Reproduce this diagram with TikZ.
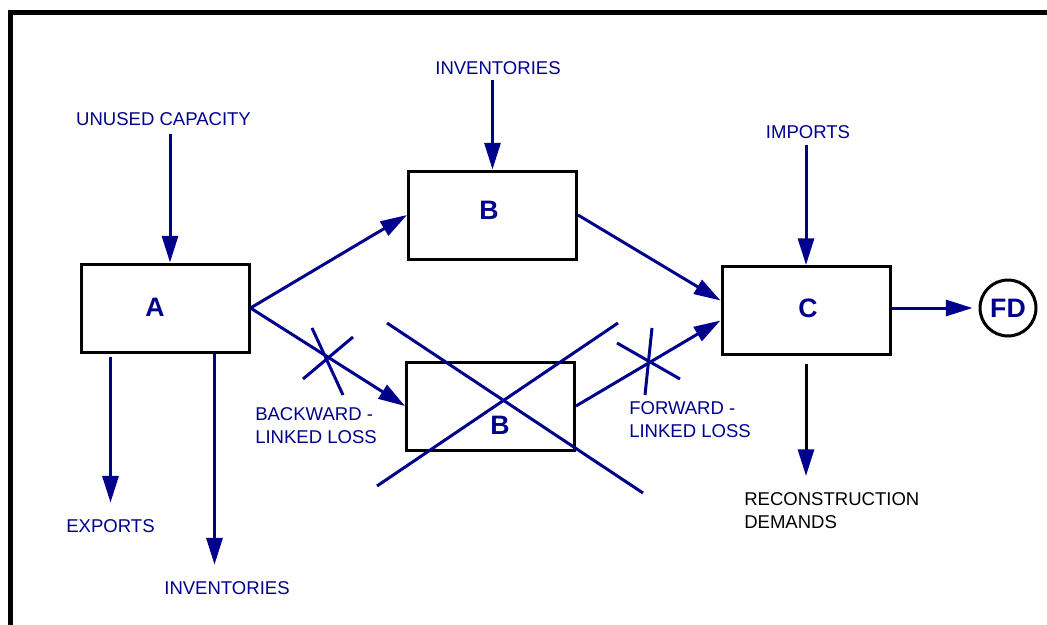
\documentclass[tikz,border=0pt]{standalone}
\usepackage{fontspec}
\setmainfont{Liberation Sans}
\usetikzlibrary{arrows.meta,calc}
\definecolor{navy}{RGB}{0,0,140}
\begin{document}
\begin{tikzpicture}[x=0.75pt,y=-0.75pt,
 box/.style={draw=black,line width=2.25pt,minimum width=126pt,minimum height=66pt,inner sep=0pt},
 big/.style={font=\fontsize{20}{24}\selectfont\bfseries,text=navy,inner sep=0pt},
 lbl/.style={font=\fontsize{13.9}{16.8}\selectfont,text=navy,inner sep=0pt,align=left},
 tip/.style={-{Triangle[length=20pt,width=12pt]}},
 arr/.style={navy,line width=2.25pt,tip},
 ln/.style={navy,line width=2.25pt},
]
\useasboundingbox (0,0) rectangle (1047,625);
\draw[line width=3.75pt] (10.5,625) -- (10.5,12.5) -- (1047,12.5);

% boxes
\node[box] (A) at (165,308) {};
\node[box] (B1) at (492.5,215) {};
\node[box] (B2) at (490.5,406) {};
\node[box] (C) at (806,310.5) {};
\node[draw=black,line width=2.25pt,circle,minimum size=42pt,inner sep=0pt,
      font=\fontsize{20}{24}\selectfont\bfseries,text=navy] (FD) at (1008,308) {FD};

\node[big] (Al) at (155,307) {A};
\node[big] (B1l) at (489,210) {B};
\node[big] (B2l) at (500,425) {B};
\node[big] (Cl) at (808,308) {C};

% texts
\node[lbl] (U) at (163.5,119) {UNUSED CAPACITY};
\node[lbl] (I1) at (498,68) {INVENTORIES};
\node[lbl] (IM) at (808,132) {IMPORTS};
\node[lbl] (EX) at (110.5,526) {EXPORTS};
\node[lbl] (I2) at (227,588) {INVENTORIES};
\node[lbl,anchor=north west] (BL) at (255,407.5) {BACKWARD -\\LINKED LOSS};
\node[lbl,anchor=north west] (FL) at (629,401.5) {FORWARD -\\LINKED LOSS};
\node[lbl,anchor=north west,text=black,font=\fontsize{13.9}{17.25}\selectfont] (RD) at (744,492.5) {RECONSTRUCTION\\DEMANDS};

% connectors
\coordinate (aN) at ($(A.north)+(5,0)$);
\draw[arr,shorten <=6.4pt] (U.south -| aN) -- (aN);
\draw[arr,shorten <=4.1pt] (I1.south -| B1.north) -- (B1.north);
\draw[arr,shorten <=4.9pt] (IM.south -| C.north) -- (C.north);
\draw[arr] (A.east) -- (B1.west);
\draw[arr] (A.east) -- (B2.west);
\draw[arr] (B1.east) -- ($(C.west)+(0,-10)$);
\draw[arr] (B2.east) -- ($(C.west)+(0,10)$);
\draw[arr,shorten >=4.5pt] (FD.west -| C.east) -- (FD.west);
\coordinate (e1) at ($(A.south west)+(31,0)$);
\coordinate (e2) at ($(A.south west)+(135,0)$);
\draw[arr,shorten <=2.25pt,shorten >=12.4pt] (e1) -- (e1 |- EX.north);
\draw[arr,shorten >=12.4pt] (e2) -- (e2 |- I2.north);
\draw[black,line width=2.25pt,-{Triangle[length=20pt,width=12pt,color=navy]},shorten <=6pt,shorten >=12.4pt] (C.south) -- (C.south |- RD.north);

% crosses
\draw[ln] (312,328) -- (343,395);
\draw[ln] (303,379) -- (353,337);
\draw[ln] (387,323) -- (643,493);
\draw[ln] (377,486) -- (618,323);
\draw[ln] (652,328) -- (645,395);
\draw[ln] (617,343) -- (680,379);
\end{tikzpicture}
\end{document}
